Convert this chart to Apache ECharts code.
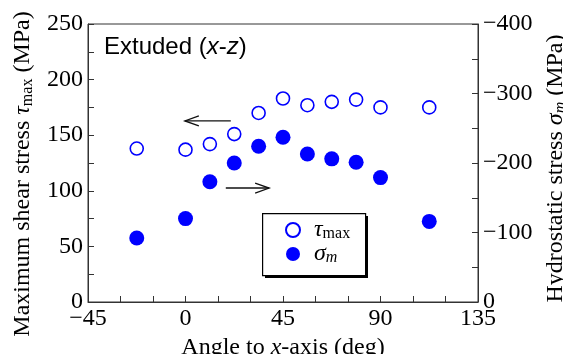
<!DOCTYPE html>
<html><head><meta charset="utf-8">
<script src="https://cdn.jsdelivr.net/npm/echarts@6/dist/echarts.min.js"></script>
<style>html,body{margin:0;padding:0;background:#fff}#c{width:563px;height:354px}</style>
</head><body><div id="c"></div>
<script>
var angles = [-22.5, 0, 11.25, 22.5, 33.75, 45, 56.25, 67.5, 78.75, 90, 112.5];
var tauMax = [138, 137, 142, 151, 170, 183, 177, 180, 182, 175, 175];
var sigmaM = [-92, -120, -173, -200, -224, -237, -213, -206, -201, -179, -116];
var xTicks = [-45, 0, 45, 90, 135];
var leftTicks = [0, 50, 100, 150, 200, 250];
var rightTicks = [0, -100, -200, -300, -400];
// arrows: [fromX, fromY, toX, toY] on the left (tau) scale
var arrows = [[20.9, 162.8, -0.3, 162.8], [18.6, 102.5, 38.6, 102.5]];

var serif = 'Liberation Serif';
var blue = '#0000ff';
function minus(v){ return v < 0 ? '\u2212' + Math.abs(v) : String(v); }

var chart = echarts.init(document.getElementById('c'), null, {renderer:'canvas'});
chart.setOption({
  animation: false,
  backgroundColor: '#fff',
  grid: {left: 88, right: 85, top: 24, bottom: 52, show: true, borderColor: '#333', borderWidth: 1,
         containLabel: false, outerBoundsMode: 'none'},
  title: {
    text: 'Extuded ({i|x}-{i|z})', left: 99, top: 30,
    textStyle: {fontFamily: 'Liberation Sans', fontSize: 24, fontWeight: 'normal', color: '#000',
      rich: {i: {fontFamily: 'Liberation Sans', fontSize: 24, fontStyle: 'italic', color: '#000'}}}
  },
  graphic: [
    {type: 'rect', left: 265, top: 216, z: 1, shape: {width: 103, height: 62}, style: {fill: '#000'}},
    {type: 'rect', left: 262, top: 213, z: 2, shape: {width: 103, height: 62}, style: {fill: '#fff', stroke: '#000', lineWidth: 1.2}}
  ],
  xAxis: {
    type: 'value', min: xTicks[0], max: xTicks[xTicks.length-1], interval: 45,
    axisLine: {onZero: false, lineStyle: {color: '#333', width: 1}},
    axisTick: {inside: true, length: 6, lineStyle: {color: '#333'}},
    minorTick: {show: true, splitNumber: 3, length: 6, lineStyle: {color: '#333'}},
    splitLine: {show: false},
    axisLabel: {fontFamily: serif, fontSize: 24, color: '#000', margin: 5, formatter: minus},
    name: 'Angle to {i|x}-axis (deg)', nameLocation: 'middle', nameGap: 31,
    nameTextStyle: {fontFamily: serif, fontSize: 24, color: '#000',
      rich: {i: {fontFamily: serif, fontSize: 24, fontStyle: 'italic', color: '#000'}}}
  },
  yAxis: [{
    type: 'value', min: 0, max: 250, interval: 50, position: 'left',
    axisLine: {show: true, onZero: false, lineStyle: {color: '#333', width: 1}},
    axisTick: {inside: true, length: 6, lineStyle: {color: '#333'}},
    minorTick: {show: true, splitNumber: 2, length: 6, lineStyle: {color: '#333'}},
    splitLine: {show: false},
    axisLabel: {fontFamily: serif, fontSize: 24, color: '#000', margin: 5},
    name: 'Maximum shear stress {t|\u03c4}{s|max} (MPa)', nameLocation: 'middle', nameGap: 51, nameRotate: 90,
    nameTextStyle: {fontFamily: serif, fontSize: 24, color: '#000', padding: [0, 22, 0, 0],
      rich: {t: {fontFamily: serif, fontSize: 24, fontStyle: 'italic', color: '#000'},
             s: {fontFamily: serif, fontSize: 16, color: '#000', verticalAlign: 'bottom', lineHeight: 26}}}
  }, {
    type: 'value', min: -400, max: 0, interval: 100, position: 'right', inverse: true,
    axisLine: {show: true, onZero: false, lineStyle: {color: '#333', width: 1}},
    axisTick: {inside: true, length: 6, lineStyle: {color: '#333'}},
    minorTick: {show: true, splitNumber: 2, length: 6, lineStyle: {color: '#333'}},
    splitLine: {show: false},
    axisLabel: {fontFamily: serif, fontSize: 24, color: '#000', margin: 5, formatter: minus},
    name: 'Hydrostatic stress {t|\u03c3}{s|m} (MPa)', nameLocation: 'middle', nameGap: 58, nameRotate: 90,
    nameTextStyle: {fontFamily: serif, fontSize: 24, color: '#000', padding: [0, 11, 0, 0],
      rich: {t: {fontFamily: serif, fontSize: 24, fontStyle: 'italic', color: '#000'},
             s: {fontFamily: serif, fontSize: 16, fontStyle: 'italic', color: '#000', verticalAlign: 'bottom', lineHeight: 26}}}
  }],
  legend: {
    orient: 'vertical', left: 285, top: 218, z: 5,
    padding: 0, itemGap: 0, itemWidth: 14, itemHeight: 14,
    data: ['tau', 'sigma'],
    formatter: function(n){ return n === 'tau' ? '{t|\u03c4}{s|max}' : '{t|\u03c3}{si|m}'; },
    textStyle: {padding: [0, 0, 0, 9], color: '#000', lineHeight: 24,
      rich: {t: {fontFamily: serif, fontSize: 24, fontStyle: 'italic', color: '#000', lineHeight: 24},
             s: {fontFamily: serif, fontSize: 16, color: '#000', verticalAlign: 'bottom', lineHeight: 24},
             si: {fontFamily: serif, fontSize: 16, fontStyle: 'italic', color: '#000', verticalAlign: 'bottom', lineHeight: 24}}}
  },
  series: [{
    name: 'tau', type: 'scatter', yAxisIndex: 0, symbol: 'circle', symbolSize: 13,
    itemStyle: {color: '#fff', borderColor: blue, borderWidth: 1.6, opacity: 1},
    data: angles.map(function(a, i){ return [a, tauMax[i]]; })
  }, {
    name: 'sigma', type: 'scatter', yAxisIndex: 1, symbol: 'circle', symbolSize: 15,
    itemStyle: {color: blue, opacity: 1},
    data: angles.map(function(a, i){ return [a, sigmaM[i]]; })
  }, {
    name: 'arrows', type: 'custom', yAxisIndex: 0, silent: true,
    data: arrows,
    renderItem: function(params, api){
      var p1 = api.coord([api.value(0), api.value(1)]);
      var p2 = api.coord([api.value(2), api.value(3)]);
      var dx = p2[0]-p1[0], dy = p2[1]-p1[1], L = Math.sqrt(dx*dx+dy*dy);
      var ux = dx/L, uy = dy/L, hl = 14, hw = 5;
      var b = [p2[0]-ux*hl, p2[1]-uy*hl];
      return {type: 'group', children: [
        {type: 'line', shape: {x1: p1[0], y1: p1[1], x2: p2[0], y2: p2[1]}, style: {stroke: '#111', lineWidth: 1.3}},
        {type: 'polyline', shape: {points: [[b[0]-uy*hw, b[1]+ux*hw], p2, [b[0]+uy*hw, b[1]-ux*hw]]}, style: {stroke: '#111', fill: null, lineWidth: 1.3}}
      ]};
    }
  }]
});
</script></body></html>
